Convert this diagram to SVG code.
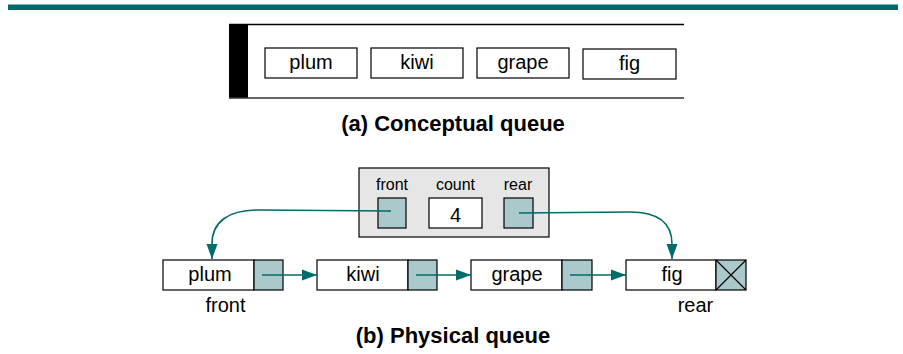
<svg xmlns="http://www.w3.org/2000/svg" width="903" height="354" viewBox="0 0 903 354">
<style>
text{font-family:"Liberation Sans",Arial,sans-serif;fill:#000}
.lbl{font-size:20px;text-anchor:middle}
.small{font-size:16px;text-anchor:middle}
.cap{font-size:22px;font-weight:bold;text-anchor:middle}
.box{fill:#fff;stroke:#000;stroke-width:1.2}
.cell{fill:#abc9cb;stroke:#000;stroke-width:1.2}
.link{fill:none;stroke:#006b6b;stroke-width:1.6}
</style>
<defs>
<marker id="ah" markerWidth="16" markerHeight="12" refX="15" refY="6" orient="auto" markerUnits="userSpaceOnUse">
<path d="M0,0.5 L15,6 L0,11.5 Z" fill="#006b6b"/>
</marker>
</defs>
<rect x="8" y="4" width="890" height="6" fill="#006a6b"/>
<line x1="8" y1="4.5" x2="898" y2="4.5" stroke="#7fb3b3" stroke-width="1"/>

<g id="conceptual">
<rect x="229" y="24" width="19" height="74" fill="#000"/>
<line x1="229" y1="24.5" x2="684" y2="24.5" stroke="#000" stroke-width="1.3"/>
<line x1="229" y1="98" x2="684" y2="98" stroke="#333" stroke-width="1.6"/>
</g>
<g id="c-plum"><rect class="box" x="265" y="48" width="92" height="30"/><text class="lbl" x="311" y="69">plum</text></g>
<g id="c-kiwi"><rect class="box" x="371" y="48" width="92" height="30"/><text class="lbl" x="417" y="69">kiwi</text></g>
<g id="c-grape"><rect class="box" x="477" y="48" width="92" height="30"/><text class="lbl" x="523" y="69">grape</text></g>
<g id="c-fig"><rect class="box" x="583" y="49" width="93" height="30"/><text class="lbl" x="629.5" y="70">fig</text></g>
<text class="cap" x="453" y="131">(a) Conceptual queue</text>

<g id="record">
<rect x="359" y="168" width="190" height="69" fill="#e6e6e6" stroke="#000" stroke-width="1.2"/>
<text class="small" x="392" y="190">front</text>
<text class="small" x="455.5" y="190">count</text>
<text class="small" x="518" y="190">rear</text>
<rect class="cell" x="378" y="198" width="28" height="30"/>
<rect class="box" x="429" y="198" width="53" height="30"/>
<text class="lbl" x="455.5" y="222">4</text>
<rect class="cell" x="504" y="198" width="29" height="30"/>
</g>

<g id="n-plum"><rect class="box" x="163" y="260" width="91" height="30"/><rect class="cell" x="254" y="260" width="29" height="30"/><text class="lbl" x="210" y="281">plum</text></g>
<g id="n-kiwi"><rect class="box" x="317" y="260" width="91" height="30"/><rect class="cell" x="408" y="260" width="29" height="30"/><text class="lbl" x="363" y="281">kiwi</text></g>
<g id="n-grape"><rect class="box" x="471" y="260" width="91" height="30"/><rect class="cell" x="562" y="260" width="30" height="30"/><text class="lbl" x="517" y="281">grape</text></g>
<g id="n-fig"><rect class="box" x="626" y="260" width="90" height="30"/><rect class="cell" x="716" y="260" width="30" height="30"/><path d="M716,260 L746,290 M746,260 L716,290" stroke="#000" stroke-width="1.2"/><text class="lbl" x="672" y="281">fig</text></g>

<text class="lbl" x="225.5" y="312">front</text>
<text class="lbl" x="695.5" y="312">rear</text>

<g id="connectors">
<path class="link" d="M262,275 L317,275" marker-end="url(#ah)"/>
<path class="link" d="M416,275 L471,275" marker-end="url(#ah)"/>
<path class="link" d="M570,275 L626,275" marker-end="url(#ah)"/>
<path class="link" d="M391,211 L258,210 C228,210 212,222 212,244 L212,259" marker-end="url(#ah)"/>
<path class="link" d="M519,213 L630,212 C658,212 672,222 672,244 L672,259" marker-end="url(#ah)"/>
</g>
<text class="cap" x="453" y="343">(b) Physical queue</text>
</svg>
